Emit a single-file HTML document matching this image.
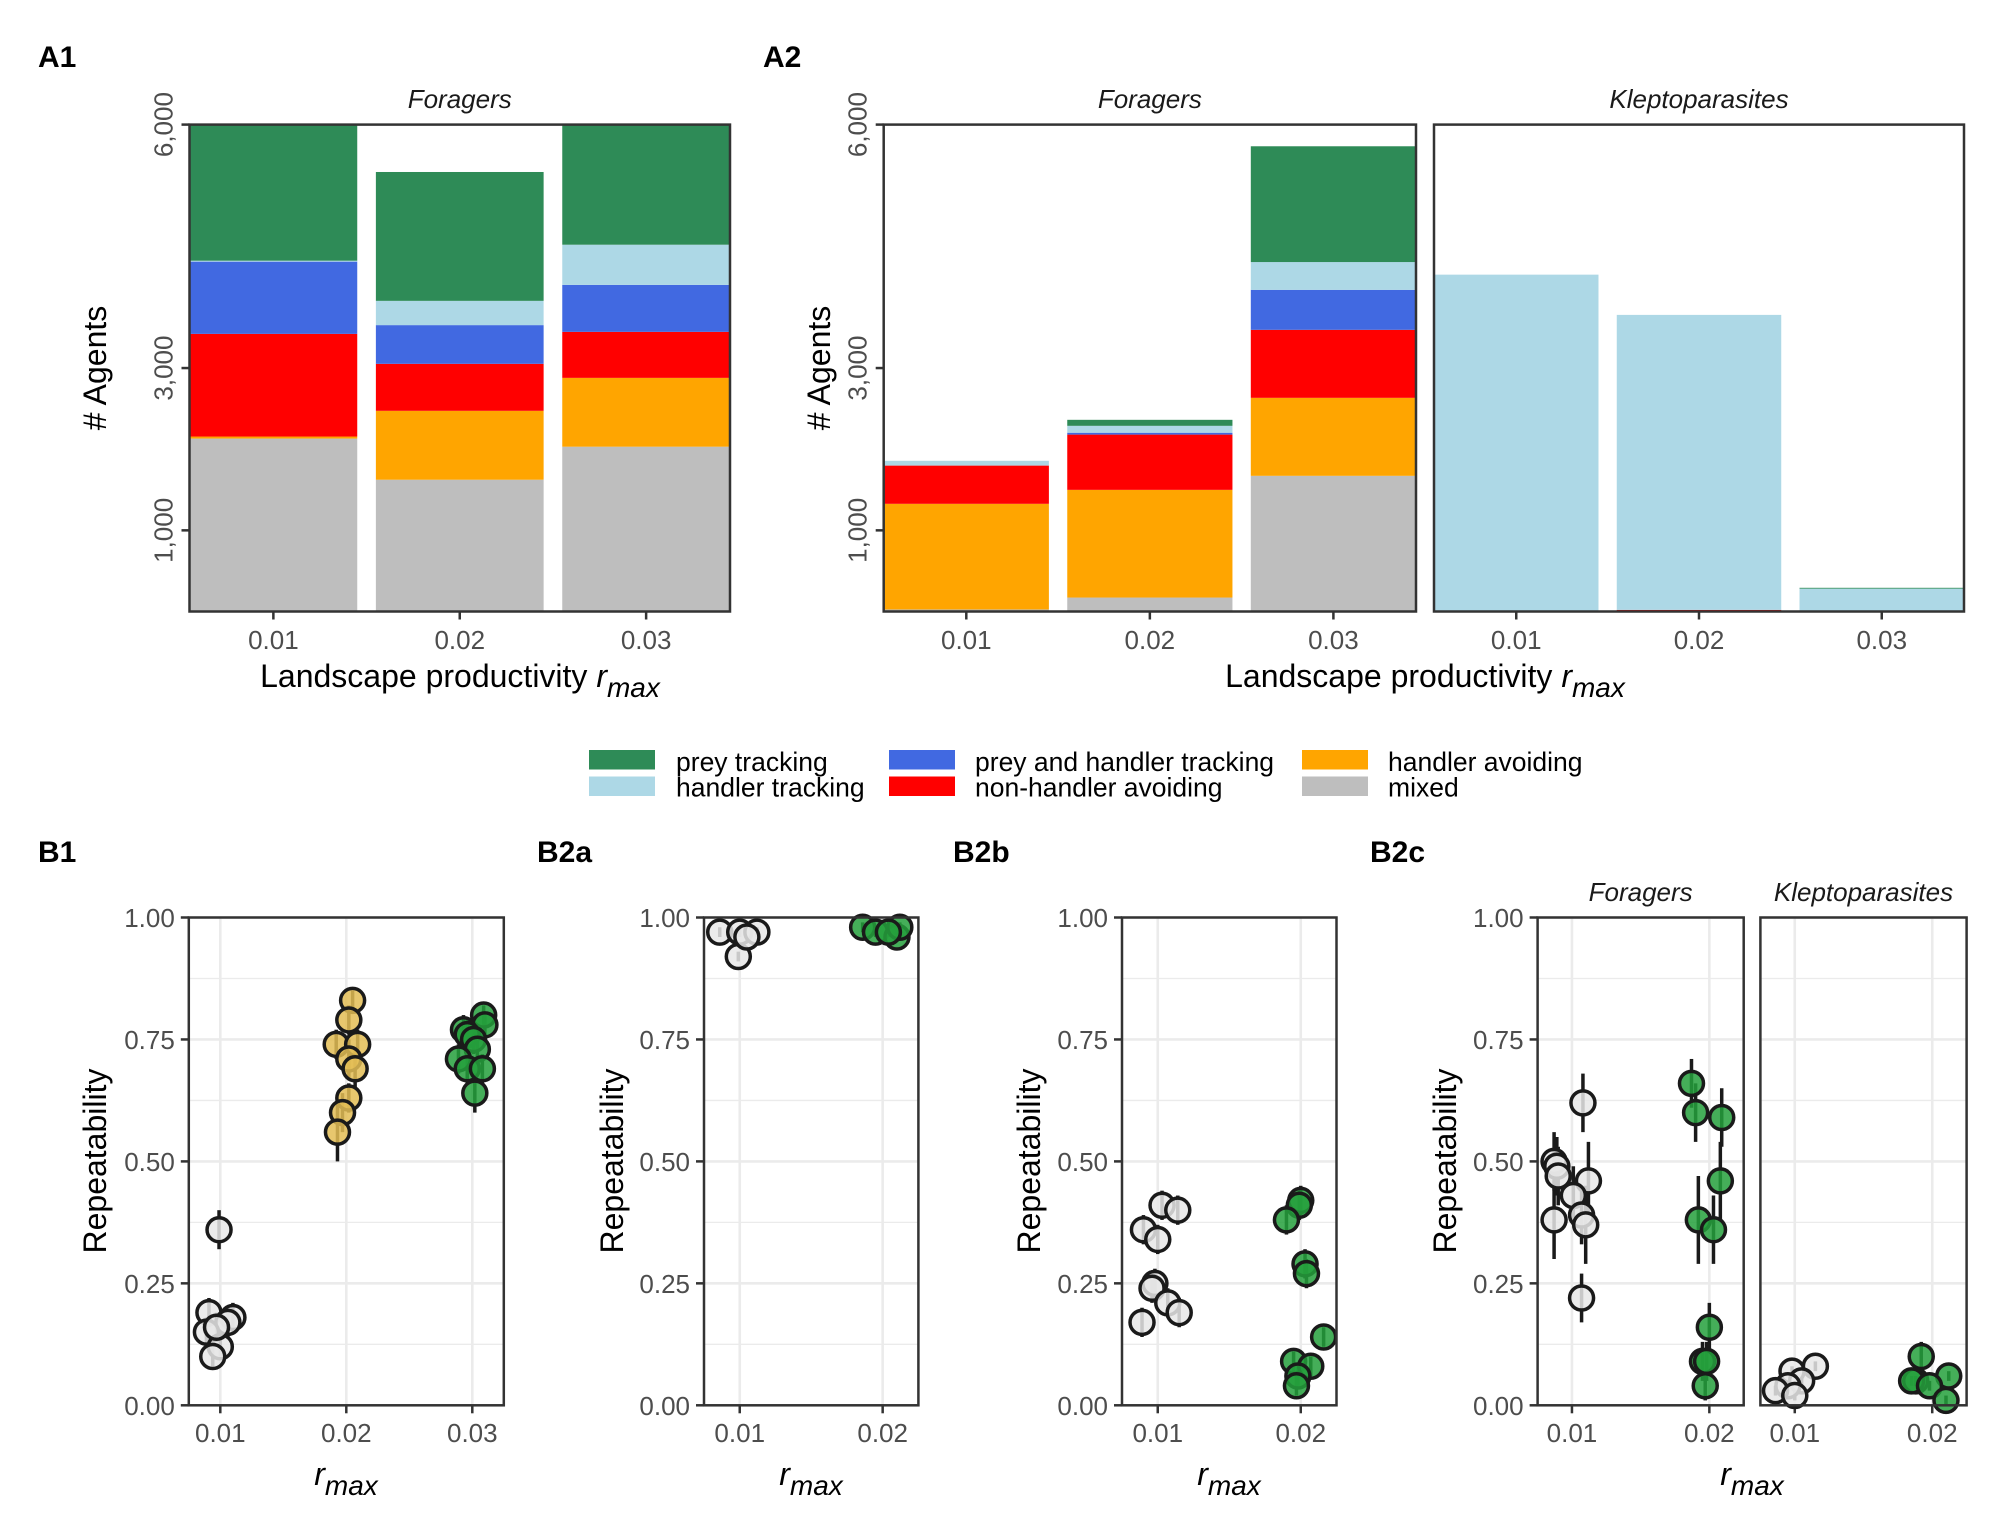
<!DOCTYPE html>
<html><head><meta charset="utf-8">
<style>
html,body{margin:0;padding:0;background:#fff;}
svg{display:block;font-family:"Liberation Sans",Arial,sans-serif;}
</style></head>
<body>
<svg id="fig" width="2007" height="1535" viewBox="0 0 2007 1535" xmlns="http://www.w3.org/2000/svg"></svg>
<script>
// ---------- DATA ----------
const stackCategories = ["0.01","0.02","0.03"];
const strategyNames = ["mixed","handler avoiding","non-handler avoiding","prey and handler tracking","handler tracking","prey tracking"];
const strategyColors = ["#bebebe","#ffa500","#ff0000","#4169e1","#add8e6","#2e8b57"];
// A1 foragers (stack bottom -> top)
const a1Mixed = [2131,1624,2031];
const a1Avoid = [25,849,848];
const a1NonHandler = [1265,579,567];
const a1PreyHandler = [890,477,579];
const a1Handler = [12,299,495];
const a1Prey = [1677,1588,1480];
// A2 foragers
const a2fMixed = [25,172,1672];
const a2fAvoid = [1302,1327,961];
const a2fNonHandler = [471,681,838];
const a2fPreyHandler = [0,23,493];
const a2fHandler = [59,85,342];
const a2fPrey = [0,74,1427];
// A2 kleptoparasites
const a2kMixed = [0,0,0];
const a2kAvoid = [0,0,0];
const a2kNonHandler = [0,20,0];
const a2kPreyHandler = [0,0,0];
const a2kHandler = [4151,3635,282];
const a2kPrey = [0,0,10];
const agentTicks = [1000,3000,6000];
const agentTickLabels = ["1,000","3,000","6,000"];
const repTicks = [0,0.25,0.5,0.75,1];
const repTickLabels = ["0.00","0.25","0.50","0.75","1.00"];

// Repeatability points: category index, value, jitter (category units), error half-width
const b1Cat = [0,0,0,0,0,0,0,0, 1,1,1,1,1,1,1,1,1, 2,2,2,2,2,2,2,2,2,2];
const b1Val = [0.36,0.19,0.18,0.17,0.15,0.12,0.10,0.16, 0.83,0.79,0.74,0.74,0.71,0.69,0.63,0.60,0.56, 0.80,0.78,0.77,0.76,0.75,0.73,0.71,0.69,0.69,0.64];
const b1Jit = [-0.01,-0.09,0.1,0.06,-0.11,0.0,-0.06,-0.03, 0.05,0.02,-0.08,0.09,0.02,0.07,0.02,-0.03,-0.07, 0.09,0.1,-0.07,-0.04,0.01,0.04,-0.11,-0.04,0.08,0.02];
const b1Err = [0.04,0.03,0.03,0.03,0.03,0.02,0.02,0.03, 0.02,0.03,0.03,0.03,0.04,0.04,0.03,0.04,0.06, 0.02,0.02,0.03,0.03,0.03,0.03,0.03,0.03,0.03,0.04];
const b1Fill = ["#e8e8e8","#e8e8e8","#e8e8e8","#e8e8e8","#e8e8e8","#e8e8e8","#e8e8e8","#e8e8e8","#e3bd55","#e3bd55","#e3bd55","#e3bd55","#e3bd55","#e3bd55","#e3bd55","#e3bd55","#e3bd55","#24a03c","#24a03c","#24a03c","#24a03c","#24a03c","#24a03c","#24a03c","#24a03c","#24a03c","#24a03c"];

const b2aCat = [0,0,0,0,0, 1,1,1,1,1];
const b2aVal = [0.97,0.97,0.97,0.92,0.96, 0.98,0.97,0.96,0.98,0.97];
const b2aJit = [-0.14,0.0,0.12,-0.01,0.05, -0.14,-0.05,0.1,0.12,0.04];
const b2aErr = [0.01,0.01,0.01,0.01,0.01, 0.01,0.01,0.01,0.01,0.01];

const b2bCat = [0,0,0,0,0,0,0,0,0, 1,1,1,1,1,1,1,1,1,1];
const b2bVal = [0.41,0.40,0.36,0.34,0.25,0.24,0.21,0.19,0.17, 0.42,0.41,0.38,0.29,0.27,0.14,0.09,0.08,0.06,0.04];
const b2bJit = [0.03,0.14,-0.1,0.0,-0.02,-0.04,0.07,0.15,-0.11, 0.0,-0.01,-0.1,0.03,0.04,0.16,-0.05,0.07,-0.02,-0.03];
const b2bErr = [0.03,0.03,0.03,0.03,0.03,0.03,0.03,0.03,0.03, 0.03,0.03,0.03,0.03,0.03,0.02,0.02,0.02,0.02,0.02];

const b2cfCat = [0,0,0,0,0,0,0,0,0,0, 1,1,1,1,1,1,1,1,1,1];
const b2cfVal = [0.62,0.50,0.49,0.47,0.46,0.43,0.39,0.38,0.37,0.22, 0.66,0.60,0.59,0.46,0.38,0.36,0.16,0.09,0.09,0.04];
const b2cfJit = [0.08,-0.13,-0.11,-0.1,0.12,0.01,0.07,-0.13,0.1,0.07, -0.13,-0.1,0.09,0.08,-0.08,0.03,0.0,-0.05,-0.02,-0.03];
const b2cfErr = [0.06,0.06,0.06,0.06,0.08,0.06,0.06,0.08,0.08,0.05, 0.05,0.06,0.06,0.08,0.09,0.07,0.05,0.04,0.04,0.03];

const b2ckCat = [0,0,0,0,0,0, 1,1,1,1,1,1];
const b2ckVal = [0.08,0.07,0.05,0.04,0.03,0.02, 0.10,0.06,0.05,0.05,0.04,0.01];
const b2ckJit = [0.15,-0.02,0.05,-0.05,-0.14,0.0, -0.08,0.12,-0.12,-0.15,-0.02,0.1];
const b2ckErr = [0.01,0.01,0.01,0.01,0.01,0.01, 0.03,0.01,0.01,0.01,0.01,0.01];

// ---------- HELPERS ----------
const NS = "http://www.w3.org/2000/svg";
const svg = document.getElementById("fig");
function mk(tag, attrs, parent){
  const e = document.createElementNS(NS, tag);
  for (const k in attrs) e.setAttribute(k, attrs[k]);
  (parent||svg).appendChild(e);
  return e;
}
function txt(str, x, y, opts, parent){
  const t = mk("text", Object.assign({x:x, y:y, "font-size":24, fill:"#000"}, opts||{}), parent);
  t.textContent = str;
  return t;
}
function rmaxLabel(cx, y, name){
  const t = mk("text", {x:cx, y:y, "font-size":32, "text-anchor":"middle", "font-style":"italic"});
  
  
  const a = document.createElementNS(NS,"tspan"); a.textContent = "r"; t.appendChild(a);
  const b = document.createElementNS(NS,"tspan"); b.setAttribute("dy","10"); b.setAttribute("font-size","28"); b.textContent = "max"; t.appendChild(b);
}

// ---------- STACKED BAR PANELS ----------
const aTop = 124.6, aBot = 611.5, aMax = 6000;
function ya(v){ return aBot - v/aMax*(aBot-aTop); }
function barPanel(name, left, right, series, stripLabel, withYAxis){
  const g = mk("g", {});
  
  
  const unit = (right-left)/2.9;
  const xc = i => left + (0.45 + i)*unit;
  stackCategories.forEach((c, i) => {
    let base = 0;
    series.forEach((arr, s) => {
      const v = arr[i];
      if (v > 0){
        const r = mk("rect", {x:xc(i)-0.45*unit, y:ya(base+v), width:0.9*unit, height:ya(base)-ya(base+v), fill:strategyColors[s]}, g);
        
        
      }
      base += v;
    });
    mk("line", {x1:xc(i), x2:xc(i), y1:aBot, y2:aBot+8, stroke:"#333", "stroke-width":2.5}, g);
    const tl = txt(c, xc(i), 649, {"text-anchor":"middle", fill:"#4d4d4d", "font-size":26}, g);
    
    
  });
  mk("rect", {x:left, y:aTop, width:right-left, height:aBot-aTop, fill:"none", stroke:"#333", "stroke-width":2.5}, g);
  const st = txt(stripLabel, (left+right)/2, 108, {"text-anchor":"middle", "font-style":"italic", "font-size":26, fill:"#1a1a1a"}, g);
  
  
  if (withYAxis){
    agentTicks.forEach((t, k) => {
      mk("line", {x1:left-8, x2:left, y1:ya(t), y2:ya(t), stroke:"#333", "stroke-width":2.5}, g);
      const yl = txt(agentTickLabels[k], 0, 0, {"text-anchor":"middle", fill:"#4d4d4d", "font-size":26, transform:`translate(${left-17},${ya(t)}) rotate(-90)`}, g);
      
      
    });
  }
}
barPanel("panel-a1-foragers", 189.5, 730, [a1Mixed,a1Avoid,a1NonHandler,a1PreyHandler,a1Handler,a1Prey], "Foragers", true);
barPanel("panel-a2-foragers", 883.7, 1416, [a2fMixed,a2fAvoid,a2fNonHandler,a2fPreyHandler,a2fHandler,a2fPrey], "Foragers", true);
barPanel("panel-a2-kleptoparasites", 1434, 1964, [a2kMixed,a2kAvoid,a2kNonHandler,a2kPreyHandler,a2kHandler,a2kPrey], "Kleptoparasites", false);

// A titles / axis titles
[["A1",38,"panel-title-a1"],["A2",763,"panel-title-a2"]].forEach(p=>{
  const t = txt(p[0], p[1], 67, {"font-size":30, "font-weight":"bold"});
   
});
[[106,"y-axis-title-a1"],[830,"y-axis-title-a2"]].forEach(p=>{
  const t = txt("# Agents", 0, 0, {"text-anchor":"middle", "font-size":32, transform:`translate(${p[0]},368) rotate(-90)`});
   
});
function landscapeTitle(cx, name){
  const t = mk("text", {x:cx, y:687, "font-size":32, "text-anchor":"middle"});
  
  
  const a = document.createElementNS(NS,"tspan"); a.textContent = "Landscape productivity "; t.appendChild(a);
  const b = document.createElementNS(NS,"tspan"); b.setAttribute("font-style","italic"); b.textContent = "r"; t.appendChild(b);
  const c = document.createElementNS(NS,"tspan"); c.setAttribute("font-style","italic"); c.setAttribute("dy","10"); c.setAttribute("font-size","28"); c.textContent = "max"; t.appendChild(c);
}
landscapeTitle(460, "x-axis-title-a1");
landscapeTitle(1425, "x-axis-title-a2");

// ---------- LEGEND ----------
const legendOrder = [5,4,3,2,1,0];
const legendCols = [[589,676],[889,975],[1302,1388]];
legendOrder.forEach((s, k) => {
  const col = legendCols[Math.floor(k/2)];
  const row = k%2;
  const g = mk("g", {});
  
  
  mk("rect", {x:col[0], y:750 + row*26.5, width:66, height:19.5, fill:strategyColors[s]}, g);
  txt(strategyNames[s], col[1], 771 + row*25.5, {"font-size":26.5}, g);
});

// ---------- REPEATABILITY PANELS ----------
const bTop = 917.5, bBot = 1405.3;
function yb(v){ return bBot - v*(bBot-bTop); }
function repPanel(name, left, right, nCat, cats, vals, jits, errs, fills, strip, withY){
  const g = mk("g", {});
  
  
  const unit = (right-left)/(nCat-1+0.5);
  const xc = i => left + (0.25+i)*unit;
  [0.125,0.375,0.625,0.875].forEach(v => mk("line",{x1:left,x2:right,y1:yb(v),y2:yb(v),stroke:"#ebebeb","stroke-width":1.3},g));
  repTicks.forEach(v => mk("line",{x1:left,x2:right,y1:yb(v),y2:yb(v),stroke:"#ebebeb","stroke-width":2.6},g));
  for (let i=0;i<nCat;i++) mk("line",{x1:xc(i),x2:xc(i),y1:bTop,y2:bBot,stroke:"#ebebeb","stroke-width":2.6},g);
  const labels = ["0.01","0.02","0.03"];
  for (let i=0;i<nCat;i++){
    mk("line",{x1:xc(i),x2:xc(i),y1:bBot,y2:bBot+8,stroke:"#333","stroke-width":2.5},g);
    const tl = txt(labels[i], xc(i), 1442, {"text-anchor":"middle", fill:"#4d4d4d", "font-size":26}, g);
    
    
  }
  vals.forEach((v,k) => {
    const x = xc(cats[k] + jits[k]);
    mk("line",{x1:x,x2:x,y1:yb(v+errs[k]),y2:yb(Math.max(0,v-errs[k])),stroke:"#1a1a1a","stroke-width":3.5},g);
  });
  vals.forEach((v,k) => {
    const x = xc(cats[k] + jits[k]);
    const c = mk("circle",{cx:x,cy:yb(v),r:12,fill:fills[k],"fill-opacity":0.85,stroke:"#1a1a1a","stroke-width":3.5},g);
    
    
  });
  mk("rect",{x:left,y:bTop,width:right-left,height:bBot-bTop,fill:"none",stroke:"#333","stroke-width":2.5},g);
  if (strip){
    const st = txt(strip, (left+right)/2, 901, {"text-anchor":"middle","font-style":"italic","font-size":26,fill:"#1a1a1a"}, g);
    
    
  }
  if (withY){
    repTicks.forEach((t,k) => {
      mk("line",{x1:left-8,x2:left,y1:yb(t),y2:yb(t),stroke:"#333","stroke-width":2.5},g);
      const yl = txt(repTickLabels[k], left-14, yb(t)+9.5, {"text-anchor":"end", fill:"#4d4d4d","font-size":26}, g);
      
      
    });
  }
}
const greyWhite = c => c===0 ? "#e8e8e8" : "#24a03c";
repPanel("panel-b1", 188.8, 503.8, 3, b1Cat, b1Val, b1Jit, b1Err, b1Fill, null, true);
repPanel("panel-b2a", 704, 918.4, 2, b2aCat, b2aVal, b2aJit, b2aErr, b2aCat.map(greyWhite), null, true);
repPanel("panel-b2b", 1122, 1336.5, 2, b2bCat, b2bVal, b2bJit, b2bErr, b2bCat.map(greyWhite), null, true);
repPanel("panel-b2c-foragers", 1537.6, 1743.7, 2, b2cfCat, b2cfVal, b2cfJit, b2cfErr, b2cfCat.map(greyWhite), "Foragers", true);
repPanel("panel-b2c-kleptoparasites", 1760.4, 1966.6, 2, b2ckCat, b2ckVal, b2ckJit, b2ckErr, b2ckCat.map(greyWhite), "Kleptoparasites", false);

[["B1",38,"panel-title-b1"],["B2a",537,"panel-title-b2a"],["B2b",953,"panel-title-b2b"],["B2c",1370,"panel-title-b2c"]].forEach(p=>{
  const t = txt(p[0], p[1], 862, {"font-size":30, "font-weight":"bold"});
   
});
[[106,"y-axis-title-b1"],[623,"y-axis-title-b2a"],[1040,"y-axis-title-b2b"],[1456,"y-axis-title-b2c"]].forEach(p=>{
  const t = txt("Repeatability", 0, 0, {"text-anchor":"middle","font-size":32, transform:`translate(${p[0]},1161) rotate(-90)`});
   
});
rmaxLabel(346, 1485, "x-axis-title-b1");
rmaxLabel(811, 1485, "x-axis-title-b2a");
rmaxLabel(1229, 1485, "x-axis-title-b2b");
rmaxLabel(1752, 1485, "x-axis-title-b2c");
</script>
</body></html>
